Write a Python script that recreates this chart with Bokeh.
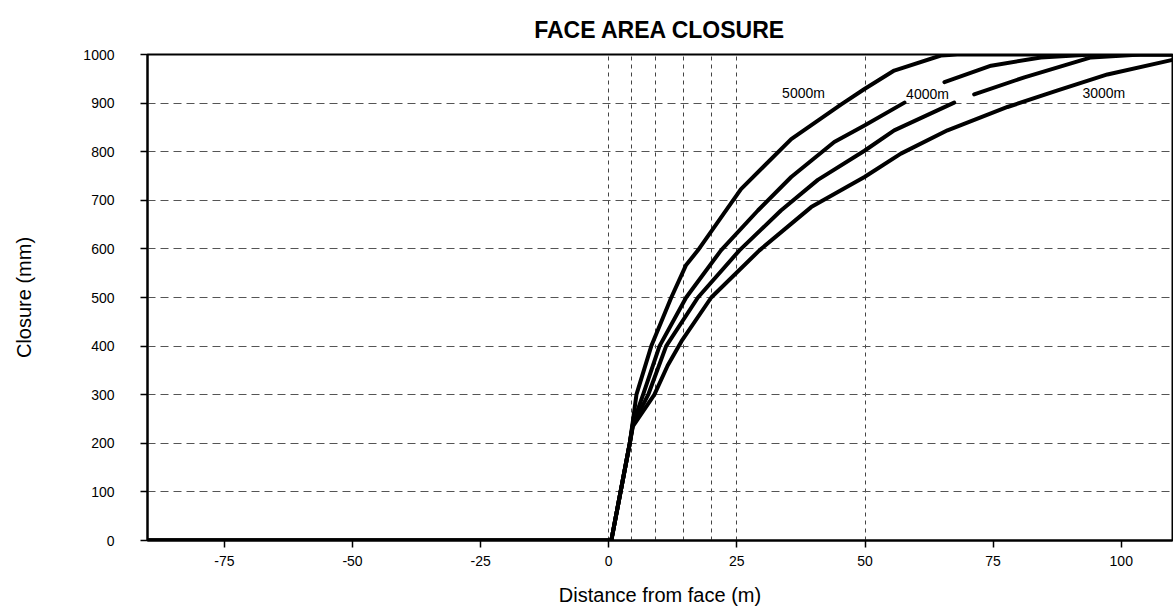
from bokeh.plotting import figure
from bokeh.models import FixedTicker, Range1d, ColumnDataSource
from bokeh.core.properties import value
from bokeh.embed import file_html
from bokeh.resources import INLINE

nan = float("nan")

# Distance from face (m) and closure (mm) for each curve
x_5000 = [-90, 0.5, 4.1, 4.7, 5.4, 8.3, 12.2, 15.1, 17.4, 25.8, 35.6, 45.3, 49.9, 55.7, 64.8, 68.0, 110]
y_5000 = [0, 0, 200, 245, 300, 400, 500, 567, 597, 723, 826, 897, 929, 967, 998, 1000, 1000]

x_4500 = [-90, 0.5, 4.1, 4.7, 6.7, 9.9, 15.1, 21.9, 29.1, 35.6, 44.0, 49.9, 57.7, nan, 65.5, 74.6, 84.3, 94.1, 110]
y_4500 = [0, 0, 200, 240, 300, 400, 500, 597, 679, 748, 820, 854, 901, nan, 943, 977, 994, 1000, 1000]

x_4000 = [-90, 0.5, 4.1, 4.7, 7.7, 11.2, 17.4, 25.5, 33.6, 40.8, 49.9, 55.7, 67.4, nan, 71.3, 81.1, 94.1, 103.8, 110]
y_4000 = [0, 0, 200, 238, 300, 400, 500, 597, 679, 742, 802, 844, 901, nan, 918, 953, 994, 1000, 1000]

x_3000 = [-90, 0.5, 4.1, 4.7, 8.9, 11.5, 14.2, 20.0, 29.4, 39.5, 49.9, 57.0, 66.1, 77.8, 87.6, 97.3, 110]
y_3000 = [0, 0, 200, 235, 300, 360, 410, 500, 597, 686, 748, 796, 844, 892, 926, 959, 989]

label_text = ["5000m", "4000m", "3000m"]
label_x = [38.0, 62.2, 96.6]
label_y = [920, 918, 920]

title_text = "FACE AREA CLOSURE"
x_ticks = [-75, -50, -25, 0, 25, 50, 75, 100]
y_ticks = [0, 100, 200, 300, 400, 500, 600, 700, 800, 900, 1000]
x_grid_lines = [0, 4.5, 9.2, 14.5, 20, 25, 50]
y_grid_lines = [100, 200, 300, 400, 500, 600, 700, 800, 900]

FONT = "Liberation Sans"

p = figure(width=1173, height=612,
           x_range=Range1d(-90, 110), y_range=Range1d(0, 1000),
           output_backend="svg", toolbar_location=None,
           min_border_left=147, min_border_right=1,
           min_border_top=54, min_border_bottom=72,
           title=title_text)

p.title.align = "center"
p.title.text_font = FONT
p.title.text_font_size = "23px"
p.title.text_font_style = "bold"
p.title.text_color = "black"
p.title.standoff = 24

p.outline_line_color = "black"
p.outline_line_width = 2
p.background_fill_color = "white"
p.border_fill_color = "white"

for ax in (p.xaxis, p.yaxis):
    ax.axis_line_color = "black"
    ax.axis_line_width = 2
    ax.major_tick_line_color = "black"
    ax.major_tick_line_width = 1.5
    ax.major_tick_out = 7
    ax.major_tick_in = 0
    ax.minor_tick_line_color = None
    ax.major_label_text_font = FONT
    ax.major_label_text_font_size = "14px"
    ax.major_label_text_color = "black"
    ax.axis_label_text_font = FONT
    ax.axis_label_text_font_size = "20px"
    ax.axis_label_text_font_style = "normal"
    ax.axis_label_text_color = "black"

p.xaxis.ticker = FixedTicker(ticks=x_ticks)
p.yaxis.ticker = FixedTicker(ticks=y_ticks)
p.xaxis.major_label_overrides = {t: str(t) for t in x_ticks}
p.xaxis.axis_label = "Distance from face (m)"
p.yaxis.axis_label = "Closure (mm)"
p.xaxis.major_label_standoff = 8
p.yaxis.major_label_standoff = 26
p.xaxis.axis_label_standoff = 15
p.yaxis.axis_label_standoff = 45

p.xgrid.ticker = FixedTicker(ticks=x_grid_lines)
p.ygrid.ticker = FixedTicker(ticks=y_grid_lines)
p.xgrid.grid_line_color = "#444444"
p.xgrid.grid_line_dash = "4 4"
p.xgrid.grid_line_width = 1
p.ygrid.grid_line_color = "#555555"
p.ygrid.grid_line_dash = "8 5"
p.ygrid.grid_line_width = 1

for xs, ys in ((x_5000, y_5000), (x_4500, y_4500), (x_4000, y_4000), (x_3000, y_3000)):
    p.line(xs, ys, line_color="black", line_width=4, line_join="round", line_cap="round")

src = ColumnDataSource(dict(x=label_x, y=label_y, t=label_text))
p.text(x="x", y="y", text="t", source=src, text_font=value(FONT),
       text_font_size="14px", text_color="black",
       text_align="center", text_baseline="middle")

open("out.html", "w").write(file_html(p, INLINE))
